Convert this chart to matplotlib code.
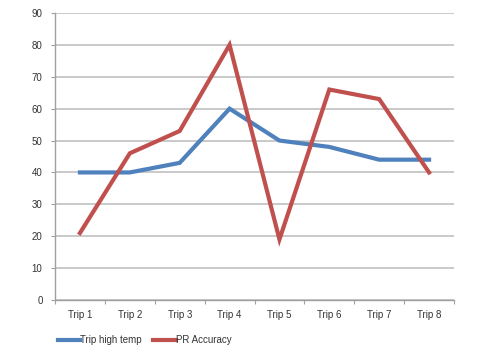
import matplotlib
matplotlib.use("Agg")
import matplotlib.pyplot as plt
import numpy as np

plt.rcParams['font.family'] = ['Liberation Sans', 'DejaVu Sans']

categories = ["Trip 1", "Trip 2", "Trip 3", "Trip 4", "Trip 5", "Trip 6", "Trip 7", "Trip 8"]
high_temp = [40, 40, 43, 60, 50, 48, 44, 44]
pr_accuracy = [21, 46, 53, 80, 19, 66, 63, 40]
y_ticks = [0, 10, 20, 30, 40, 50, 60, 70, 80, 90]

fig = plt.figure(figsize=(5.0, 3.51), dpi=100)
ax = fig.add_axes([0.11, 0.1453, 0.798, 0.8177])

x = np.arange(len(categories))
ax.plot(x, high_temp, color="#4f81bd", lw=3.0, label="Trip high temp", solid_joinstyle="miter")
ax.plot(x, pr_accuracy, color="#c0504d", lw=3.0, label="PR Accuracy", solid_joinstyle="miter")

ax.set_xlim(-0.5, len(categories) - 0.5)
ax.set_ylim(0, 90)
ax.set_yticks(y_ticks)
ax.set_yticklabels([str(v) for v in y_ticks], fontsize=7, color="#333333")
ax.yaxis.grid(True, color="#c0c0c0", lw=1.2)
ax.set_axisbelow(True)

ax.set_xticks(np.arange(-0.5, len(categories), 1.0))
ax.set_xticklabels([])
ax.set_xticks(x, minor=True)
ax.set_xticklabels(categories, minor=True, fontsize=7, color="#333333")
ax.tick_params(axis="x", which="minor", length=0, pad=7)
ax.tick_params(axis="x", which="major", length=3, color="#a0a0a0")
ax.tick_params(axis="y", length=3, color="#a0a0a0", pad=6)

for s in ["top", "right"]:
    ax.spines[s].set_visible(False)
for s in ["left", "bottom"]:
    ax.spines[s].set_color("#a0a0a0")
    ax.spines[s].set_linewidth(1.0)

leg = fig.legend(loc="lower left", bbox_to_anchor=(0.098, -0.008), ncol=2, frameon=False,
                 fontsize=7, handlelength=2.3, handletextpad=0.0, columnspacing=1.2)
for t in leg.get_texts():
    t.set_color("#333333")

fig.savefig("out.png", dpi=100)
